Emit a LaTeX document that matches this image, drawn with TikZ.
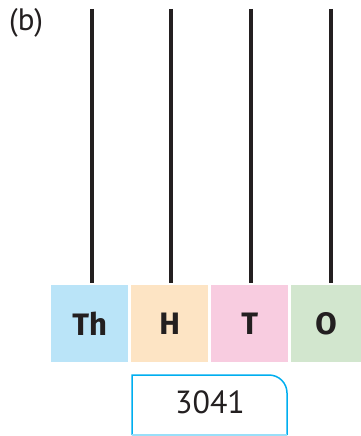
\documentclass[tikz,border=0pt]{standalone}
\usepackage{fontspec}
\setmainfont{PT Sans}
\newfontfamily\labfont{Fira Sans}
\definecolor{cTh}{RGB}{186,228,248}
\definecolor{cH}{RGB}{253,228,196}
\definecolor{cT}{RGB}{248,204,224}
\definecolor{cO}{RGB}{210,230,206}
\definecolor{ink}{RGB}{35,31,32}
\definecolor{cyanb}{RGB}{0,174,239}
\begin{document}
\begin{tikzpicture}[x=1pt,y=-1pt,
  rod/.style={line width=4.5pt,draw=ink},
  place/.style={minimum width=77pt,minimum height=77pt,inner sep=0pt,anchor=north west,text=ink,font=\labfont\fontsize{31}{31}\selectfont\bfseries},
  lbl/.style={text=ink,inner sep=0pt}]
\useasboundingbox (0,0) rectangle (360,436);
\node[lbl,anchor=north west,font=\fontsize{31}{31}\selectfont] (b) at (9,8) {(b)};
\node[place,fill=cTh] (th) at (51,285) {Th};
\node[place,fill=cH] (h) at (131,285) {H};
\node[place,fill=cT] (t) at (211,285) {T};
\node[place,fill=cO,minimum width=70pt] (o) at (291,285) {O};
\coordinate (p1) at (92,9);
\coordinate (p2) at (171,9);
\coordinate (p3) at (251,9);
\coordinate (p4) at (331,9);
\coordinate (q1) at (92,283);
\coordinate (q2) at (171,283);
\coordinate (q3) at (251,283);
\coordinate (q4) at (331,283);
\draw[rod] (p1) -- (q1);
\draw[rod] (p2) -- (q2);
\draw[rod] (p3) -- (q3);
\draw[rod] (p4) -- (q4);
\draw[cyanb,line width=1.5pt] (132,435) -- (132,375) -- (269,375) arc[start angle=-90,end angle=0,radius=18] -- (287,435);
\draw[cyanb!40,line width=1.5pt] (132,435) -- (287,435);
\node[lbl,font=\fontsize{32}{32}\selectfont] (num) at (210,402) {3041};
\end{tikzpicture}
\end{document}
